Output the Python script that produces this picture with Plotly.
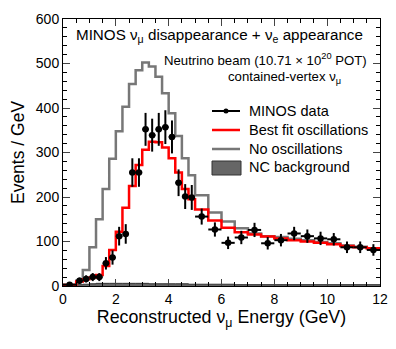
import plotly.graph_objects as go

# bin edges (GeV): 0-0.5, then 0.25 GeV to 5, then 0.5 GeV to 12
edges = [0, 0.5, 0.75, 1.0, 1.25, 1.5, 1.75, 2.0, 2.25, 2.5, 2.75, 3.0, 3.25, 3.5, 3.75,
         4.0, 4.25, 4.5, 4.75, 5.0, 5.5, 6.0, 6.5, 7.0, 7.5, 8.0, 8.5, 9.0, 9.5, 10.0,
         10.5, 11.0, 11.5, 12.0]

no_osc = [3, 12, 36, 87, 150, 218, 286, 348, 403, 454, 485, 502, 493, 470, 433,
          388, 337, 287, 249, 204, 165, 145, 130, 118, 112, 110, 106, 103, 99, 96,
          91, 88, 85]
best_fit = [2, 10, 15, 19, 25, 45, 81, 122, 176, 225, 272, 306, 324, 323, 311,
            287, 255, 218, 195, 172, 147, 131, 121, 116, 111, 107, 103, 100, 97, 94,
            90, 87, 85]
nc_bkg = [1, 3, 4, 5, 6, 6, 6, 6, 6, 6, 6, 6, 5, 5, 5,
          5, 5, 5, 4, 4, 4, 4, 3, 3, 3, 3, 3, 3, 3, 3,
          3, 3, 3]

data_x = [0.25, 0.625, 0.875, 1.125, 1.375, 1.625, 1.875, 2.125, 2.375, 2.625, 2.875,
          3.125, 3.375, 3.625, 3.875, 4.125, 4.375, 4.625, 4.875, 5.25, 5.75, 6.25,
          6.75, 7.25, 7.75, 8.25, 8.75, 9.25, 9.75, 10.25, 10.75, 11.25, 11.75]
data_y = [3, 12, 16, 20, 20, 51, 64, 112, 117, 255, 255, 352, 339, 352, 357, 335, 232,
          201, 199, 156, 127, 97, 109, 126, 96, 103, 118, 112, 107, 105, 87, 87, 81]
data_ey = [4, 7, 8, 9, 9, 14, 16, 21, 22, 32, 32, 37, 37, 37, 38, 37, 30, 28, 28,
           18, 16, 14, 15, 16, 14, 14, 15, 15, 15, 14, 13, 13, 13]
data_ex = [0.25] + [0.125] * 18 + [0.25] * 14


def step(vals):
    return edges, vals + [vals[-1]]


fig = go.Figure()

xs, ys = step(nc_bkg)
fig.add_trace(go.Scatter(x=xs, y=ys, mode="lines", line=dict(shape="hv", color="#333333", width=1),
                         fill="tozeroy", fillcolor="#666666", showlegend=False))
xs, ys = step(no_osc)
fig.add_trace(go.Scatter(x=xs, y=ys, mode="lines", line=dict(shape="hv", color="#777777", width=2.5),
                         showlegend=False))
xs, ys = step(best_fit)
fig.add_trace(go.Scatter(x=xs, y=ys, mode="lines", line=dict(shape="hv", color="#ff0000", width=2.5),
                         showlegend=False))
fig.add_trace(go.Scatter(x=data_x, y=data_y, mode="markers",
                         marker=dict(color="black", size=6.5),
                         error_y=dict(type="data", array=data_ey, color="black", thickness=2, width=0),
                         error_x=dict(type="data", array=data_ex, color="black", thickness=2, width=0),
                         showlegend=False))

font = "Liberation Sans, Arial, sans-serif"

# page body adds an 8px offset, so the figure is a bit smaller than the window
OFF = 8
W, H = 396 - OFF, 349 - OFF
L, R, T, B = 63 - OFF, 16, 19 - OFF, 63
pw, ph = W - L - R, H - T - B

fig.update_layout(
    width=W, height=H,
    margin=dict(l=L, r=R, t=T, b=B),
    paper_bgcolor="white", plot_bgcolor="white",
    font=dict(family=font, size=13, color="black"),
    xaxis=dict(range=[0, 12], dtick=2, ticks="inside", ticklen=7, tickwidth=1, mirror="allticks",
               showline=True, linecolor="black", linewidth=1, showgrid=False, zeroline=False,
               automargin=False,
               minor=dict(dtick=0.5, ticks="inside", ticklen=4, tickcolor="black"),
               title=dict(text="Reconstructed ν<sub>μ</sub> Energy (GeV)", font=dict(size=17.8), standoff=3),
               tickfont=dict(size=14)),
    yaxis=dict(range=[0, 600], dtick=100, ticks="inside", ticklen=7, tickwidth=1, mirror="allticks",
               showline=True, linecolor="black", linewidth=1, showgrid=False, zeroline=False,
               automargin=False,
               minor=dict(dtick=20, ticks="inside", ticklen=4, tickcolor="black"),
               title=dict(text="Events / GeV", font=dict(size=17.5), standoff=7),
               tickfont=dict(size=14)),
)


def px(xp):
    return (xp - OFF - L) / pw


def py(yp):
    return 1 - (yp - OFF - T) / ph


# legend drawn by hand
leg = [("MINOS data", 111), ("Best fit oscillations", 130), ("No oscillations", 149), ("NC background", 167)]
for txt, yp in leg:
    fig.add_annotation(x=px(247), y=py(yp), xref="paper", yref="paper", text=txt, showarrow=False,
                       xanchor="left", yanchor="middle", font=dict(size=14.5, color="black"))

fig.add_shape(type="line", xref="paper", yref="paper", x0=px(212), x1=px(240), y0=py(111), y1=py(111),
              line=dict(color="black", width=2))
fig.add_shape(type="circle", xref="paper", yref="paper", x0=px(223.5), x1=px(228.5), y0=py(108.5), y1=py(113.5),
              fillcolor="black", line=dict(color="black", width=0))
fig.add_shape(type="line", xref="paper", yref="paper", x0=px(212), x1=px(240), y0=py(130), y1=py(130),
              line=dict(color="#ff0000", width=2.5))
fig.add_shape(type="line", xref="paper", yref="paper", x0=px(212), x1=px(240), y0=py(149), y1=py(149),
              line=dict(color="#777777", width=2.5))
fig.add_shape(type="rect", xref="paper", yref="paper", x0=px(212), x1=px(241), y0=py(161), y1=py(175),
              fillcolor="#666666", line=dict(color="#333333", width=1))

# header texts
fig.add_annotation(x=px(219), y=py(35), xref="paper", yref="paper", showarrow=False,
                   text="MINOS ν<sub>μ</sub> disappearance + ν<sub>e</sub> appearance",
                   font=dict(size=15.2, color="black"), xanchor="center", yanchor="middle")
fig.add_annotation(x=px(369), y=py(60), xref="paper", yref="paper", showarrow=False,
                   text="Neutrino beam (10.71 × 10<sup>20</sup> POT)",
                   font=dict(size=13.2, color="black"), xanchor="right", yanchor="middle")
fig.add_annotation(x=px(284), y=py(77), xref="paper", yref="paper", showarrow=False,
                   text="contained-vertex ν<sub>μ</sub>",
                   font=dict(size=13.2, color="black"), xanchor="center", yanchor="middle")

fig.write_html("out.html")
